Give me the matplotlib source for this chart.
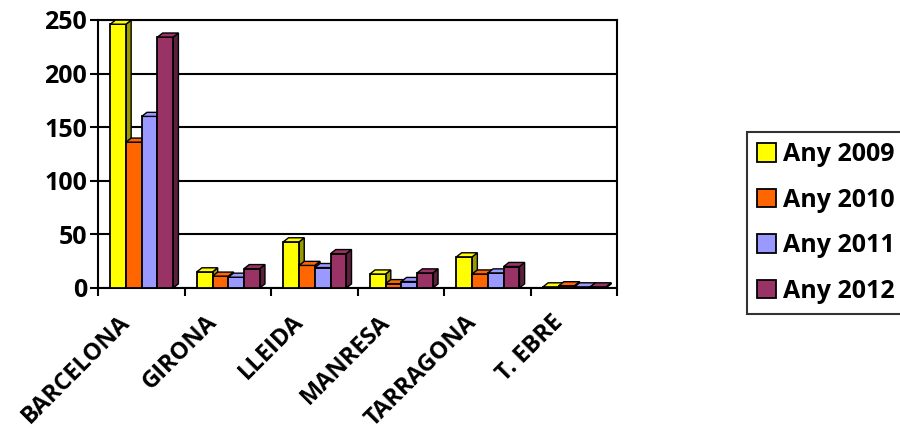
import matplotlib.pyplot as plt
from matplotlib.patches import Polygon
import numpy as np

plt.rcParams['font.family'] = ['Open Sans', 'DejaVu Sans']
plt.rcParams['font.weight'] = 'bold'

categories = ["BARCELONA", "GIRONA", "LLEIDA", "MANRESA", "TARRAGONA", "T. EBRE"]
years = ["Any 2009", "Any 2010", "Any 2011", "Any 2012"]
any_2009 = [246, 15, 43, 13, 29, 1]
any_2010 = [136, 11, 21, 4, 13, 2]
any_2011 = [160, 10, 19, 6, 14, 1]
any_2012 = [234, 18, 32, 14, 20, 1]
series = [any_2009, any_2010, any_2011, any_2012]

colors = ["#ffff00", "#ff6600", "#9999ff", "#993366"]
side_colors = ["#999900", "#993d00", "#5c5c99", "#5c1f3d"]

fig = plt.figure(figsize=(9, 4.33), dpi=100)
ax = fig.add_axes([0.109, 0.335, 0.577, 0.619])

width = 0.182
dx = 0.06
dy = 3.8
x0 = np.arange(len(categories)) + 0.14

for k, vals in enumerate(series):
    xs = x0 + k * width
    ax.bar(xs, vals, width=width, align="edge", color=colors[k],
           edgecolor="black", linewidth=1.3, label=years[k], zorder=3)
    # fake 3d: top and side faces
    for x, v in zip(xs, vals):
        top = Polygon([(x, v), (x + dx, v + dy), (x + width + dx, v + dy), (x + width, v)],
                      closed=True, facecolor=colors[k], edgecolor="black",
                      linewidth=1.0, zorder=3)
        side = Polygon([(x + width, 0), (x + width + dx, dy), (x + width + dx, v + dy), (x + width, v)],
                       closed=True, facecolor=side_colors[k], edgecolor="black",
                       linewidth=1.0, zorder=2.9)
        ax.add_patch(top)
        ax.add_patch(side)

ax.set_xlim(0, len(categories))
ax.set_ylim(0, 250)
ax.set_yticks(np.arange(0, 251, 50))
ax.grid(axis="y", color="black", linewidth=1.5, zorder=0)
for s in ax.spines.values():
    s.set_linewidth(1.5)

ax.set_xticks(np.arange(len(categories)) + 0.33)
ax.set_xticklabels(categories, rotation=45, ha="right", va="center", rotation_mode="anchor")
ax.set_xticks(np.arange(len(categories) + 1), minor=True)
ax.tick_params(axis="x", which="major", length=0, pad=22, labelsize=17)
ax.tick_params(axis="x", which="minor", length=6, width=1.5, direction="out")
ax.tick_params(axis="y", length=6, width=1.5, labelsize=18, pad=2)

leg = fig.legend(loc="upper left", bbox_to_anchor=(0.83, 0.695), frameon=True,
                 fancybox=False, edgecolor="black", fontsize=18,
                 handlelength=0.75, handleheight=0.75, handletextpad=0.3,
                 labelspacing=0.82, borderpad=0.4, borderaxespad=0)
leg.get_frame().set_linewidth(1.5)

plt.savefig("out.png", dpi=100)
